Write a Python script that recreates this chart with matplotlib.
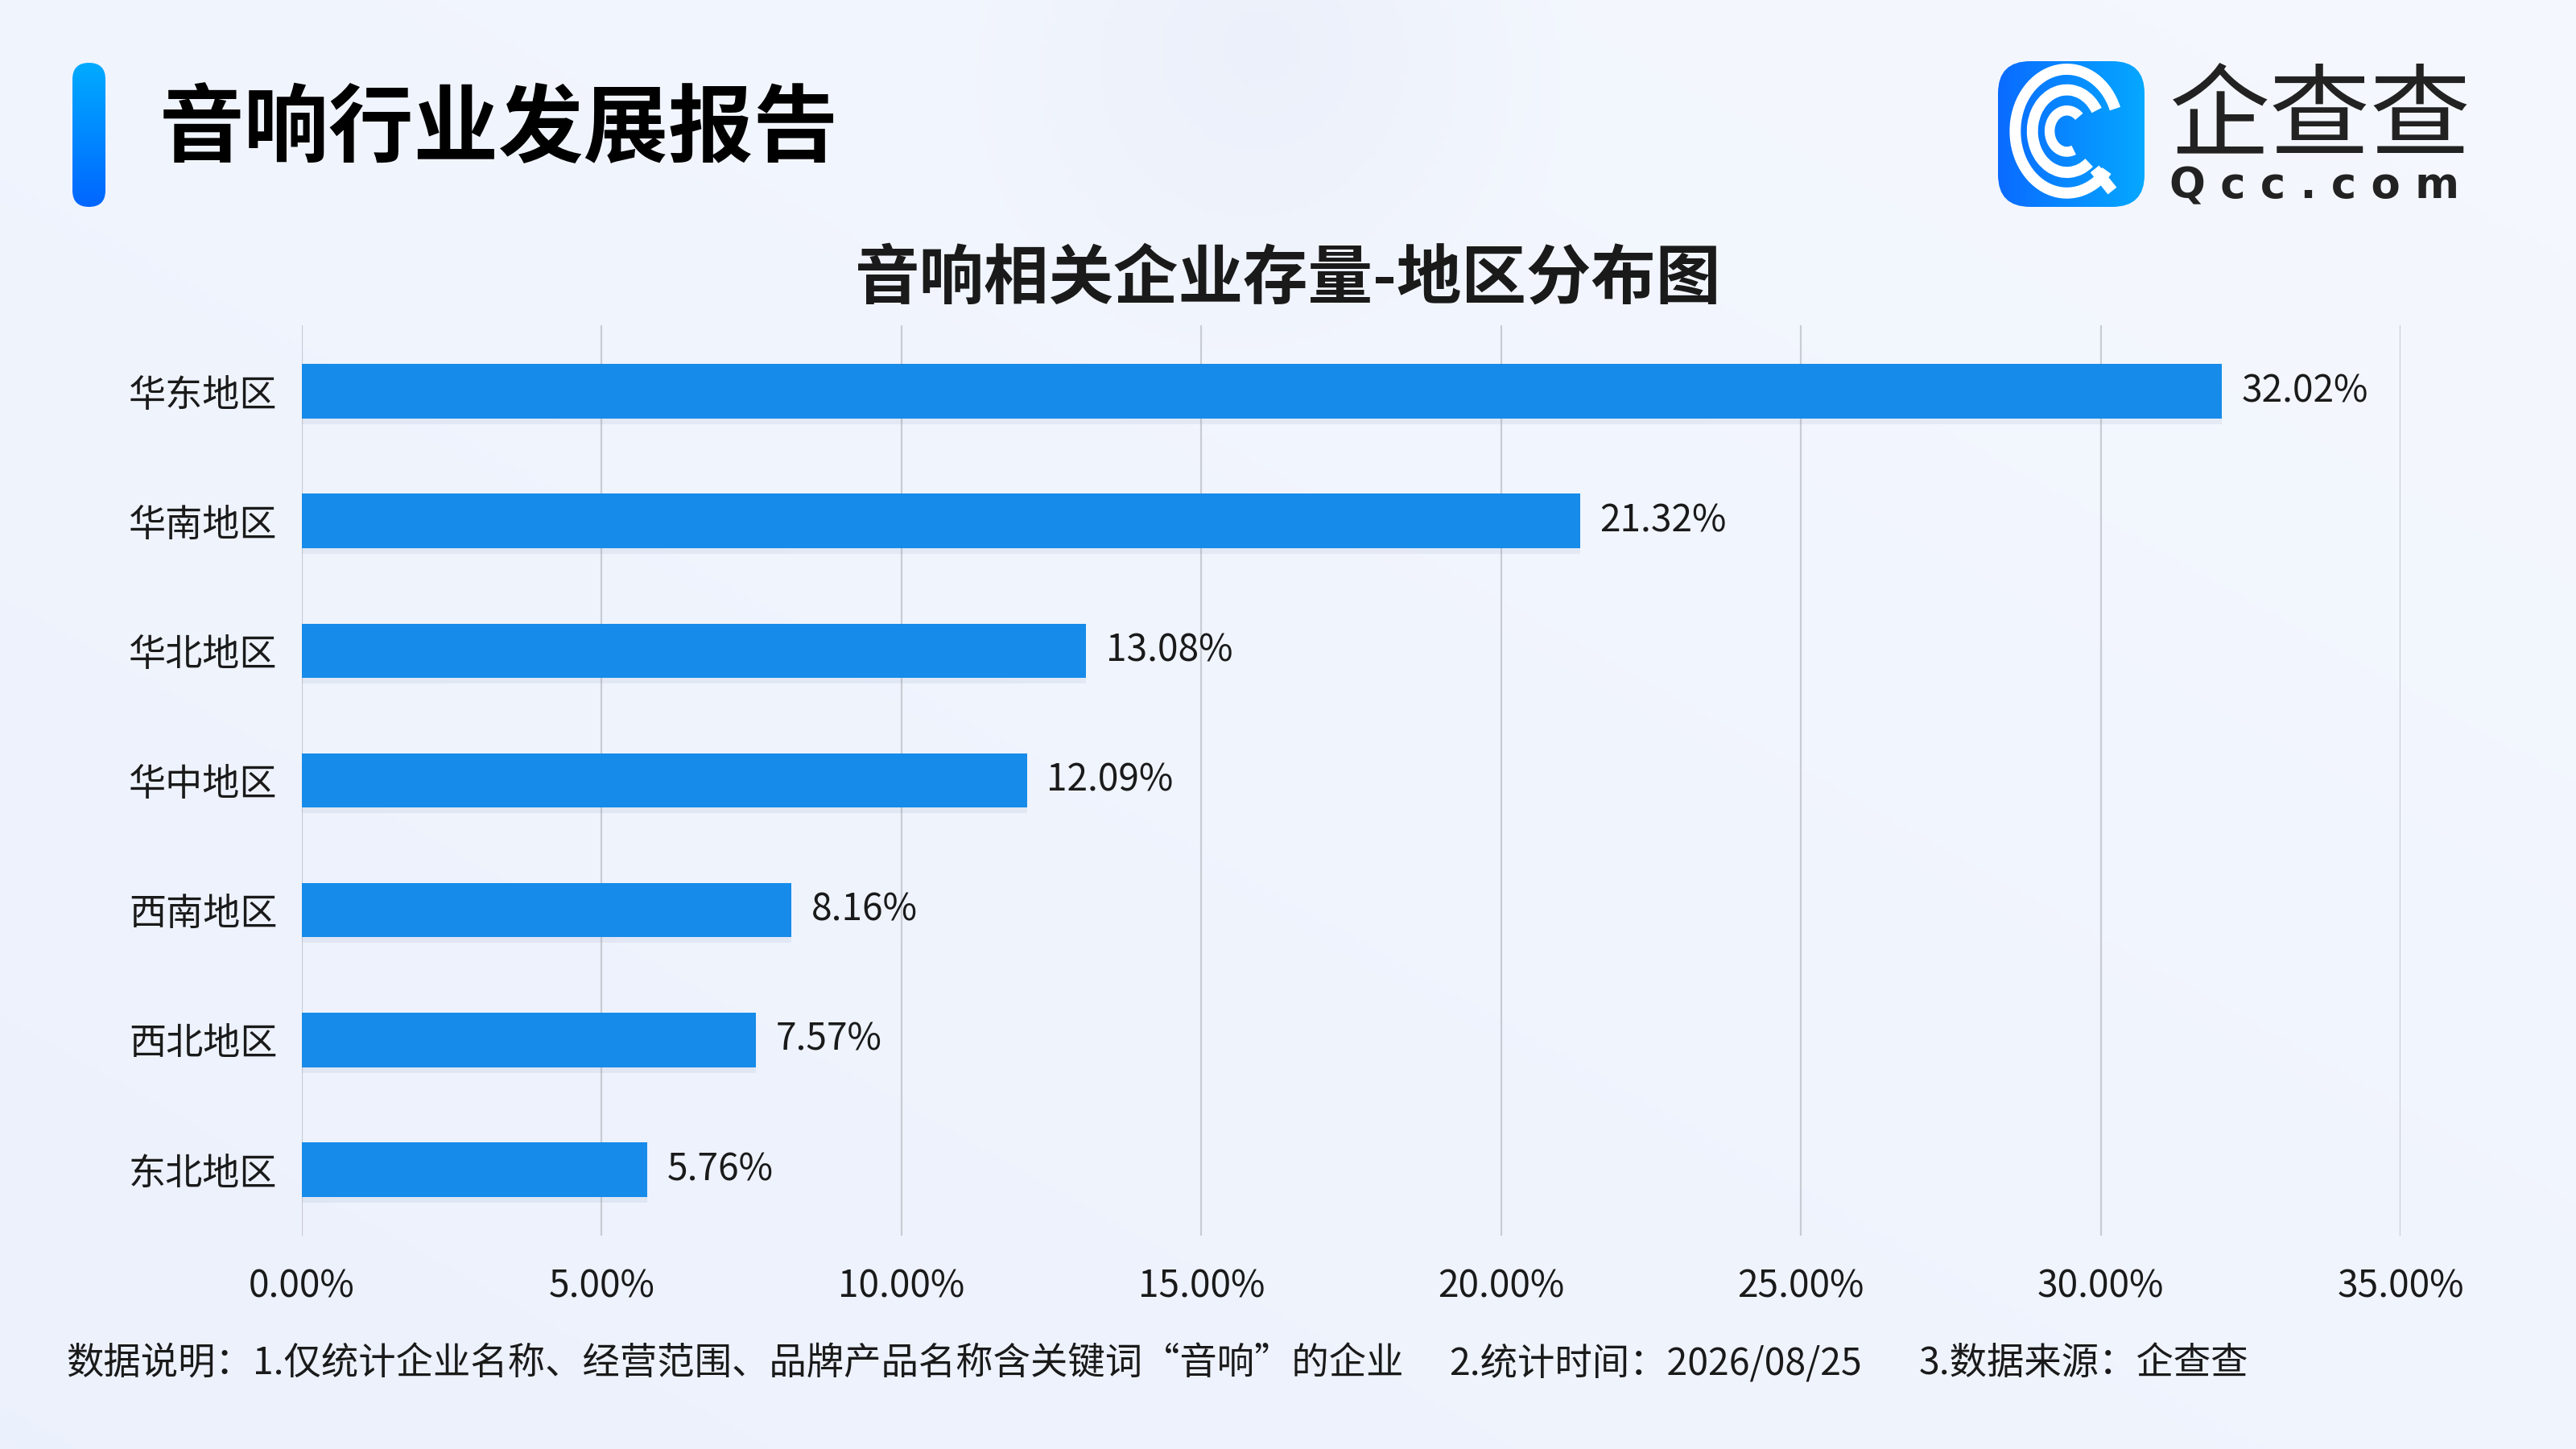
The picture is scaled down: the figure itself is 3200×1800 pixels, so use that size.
"""
音响相关企业存量-地区分布图 (横向条形图)
"""

import numpy as np
import matplotlib
matplotlib.use("Agg")
import matplotlib.pyplot as plt
from matplotlib.patches import FancyBboxPatch, Arc
from matplotlib import patheffects

plt.rcParams['font.family'] = ['Noto Sans CJK SC', 'DejaVu Sans']

# 数据
regions = ['华东地区', '华南地区', '华北地区', '华中地区', '西南地区', '西北地区', '东北地区']
shares = [32.02, 21.32, 13.08, 12.09, 8.16, 7.57, 5.76]
x_ticks = [0, 5, 10, 15, 20, 25, 30, 35]

main_title = '音响行业发展报告'
chart_title = '音响相关企业存量-地区分布图'
footnote_parts = ['数据说明：1.仅统计企业名称、经营范围、品牌产品名称含关键词“音响”的企业',
                  '2.统计时间：2026/08/25',
                  '3.数据来源：企查查']

BAR_COLOR = '#168bea'
TEXT_COLOR = '#1a1a1a'

fig = plt.figure(figsize=(16, 9), dpi=200)

# 背景渐变
bg = fig.add_axes([0, 0, 1, 1], zorder=-10)
yy, xx = np.mgrid[0:1:300j, 0:1:520j]
base = np.zeros((300, 520, 3))
c1 = np.array([0.925, 0.945, 0.990])
c2 = np.array([0.960, 0.972, 0.995])
t = np.clip(0.5 * xx + 0.5 * (1 - yy), 0, 1)[..., None]
base[:] = c1 * (1 - t) + c2 * t
# 顶部淡圆
d = np.sqrt(((xx - 0.49) * 1.78) ** 2 + (yy - 0.03) ** 2)
glow = np.clip(1 - d / 0.22, 0, 1)[..., None] * 0.5
base = base * (1 - glow) + np.array([0.90, 0.92, 0.97]) * glow
bg.imshow(base, extent=[0, 1, 0, 1], aspect='auto', origin='upper')
bg.set_xlim(0, 1)
bg.set_ylim(0, 1)
bg.axis('off')

# 标题竖条
bar_grad = np.linspace(0, 1, 100)[:, None]
cax = fig.add_axes([90 / 3200, 1 - 257 / 1800, 41 / 3200, 179 / 1800])
cols = np.array([0.0, 0.67, 1.0]) * (1 - bar_grad[..., None]) + np.array([0.0, 0.40, 1.0]) * bar_grad[..., None]
cax.imshow(cols, extent=[0, 1, 0, 1], aspect='auto', origin='upper')
clip = FancyBboxPatch((0, 0), 1, 1, boxstyle='round,pad=0,rounding_size=0.5',
                      mutation_aspect=0.23, transform=cax.transData, facecolor='none', edgecolor='none')
cax.add_patch(clip)
cax.images[0].set_clip_path(clip)
cax.axis('off')

fig.text(198 / 3200, 1 - 162 / 1800, main_title, fontsize=38, fontweight='black',
         color='#000000', va='center', ha='left')

# 企查查 logo
lax = fig.add_axes([2482 / 3200, 1 - 257 / 1800, 182 / 3200, 181 / 1800])
lgrad = np.linspace(0, 1, 100)[None, :]
lcols = np.array([0.04, 0.42, 1.0]) * (1 - lgrad[..., None]) + np.array([0.02, 0.66, 1.0]) * lgrad[..., None]
lax.imshow(lcols, extent=[0, 1, 0, 1], aspect='auto')
lclip = FancyBboxPatch((0, 0), 1, 1, boxstyle='round,pad=0,rounding_size=0.22',
                       transform=lax.transData, facecolor='none', edgecolor='none')
lax.add_patch(lclip)
lax.images[0].set_clip_path(lclip)
for r, gap in [(0.72, 35), (0.48, 45), (0.24, 60)]:
    lax.add_patch(Arc((0.47, 0.52), r * 0.98, r * 1.18, theta1=gap - 10, theta2=360 - gap - 10,
                      color='white', lw=5 if r > 0.3 else 4.5))
lax.plot([0.66, 0.78], [0.26, 0.11], color='white', lw=5, solid_capstyle='butt')
lax.set_xlim(0, 1)
lax.set_ylim(0, 1)
lax.axis('off')

fig.text(2695 / 3200, 1 - 148 / 1800, '企查查', fontsize=45, color='#222222',
         va='center', ha='left')
fig.text(2695 / 3200, 1 - 231 / 1800, 'Q c c . c o m', fontsize=19, fontweight='bold',
         color='#222222', va='center', ha='left', family='DejaVu Sans')

# 图表标题
fig.text(0.5, 1 - 347 / 1800, chart_title, fontsize=29, fontweight='bold',
         color=TEXT_COLOR, va='center', ha='center')

# 主图
ax = fig.add_axes([375 / 3200, 265 / 1800, 2607 / 3200, 1131 / 1800])
ax.patch.set_alpha(0)
y_pos = np.arange(len(regions))
bars = ax.barh(y_pos, shares, height=0.42, color=BAR_COLOR, zorder=3)
for b in bars:
    b.set_path_effects([patheffects.SimplePatchShadow(offset=(0, -2.5), shadow_rgbFace='#6f82a8', alpha=0.10),
                        patheffects.Normal()])
for y, v in zip(y_pos, shares):
    ax.text(v + 0.33, y, f'{v:.2f}%', va='center', ha='left', fontsize=16.6, color=TEXT_COLOR)

ax.set_xlim(0, 35)
ax.set_ylim(len(regions) - 0.49, -0.51)
ax.set_xticks(x_ticks)
ax.set_xticklabels([f'{v:.2f}%' for v in x_ticks])
ax.set_yticks(y_pos)
ax.set_yticklabels(regions)
ax.tick_params(axis='x', length=0, pad=14, labelsize=16.6, labelcolor=TEXT_COLOR)
ax.tick_params(axis='y', length=0, pad=11, labelsize=16.6, labelcolor=TEXT_COLOR)
ax.grid(axis='x', color='#c9ccd3', lw=0.8, zorder=0)
for s in ax.spines.values():
    s.set_visible(False)

# 脚注
for part, x_px in zip(footnote_parts, [82, 1800, 2384]):
    fig.text(x_px / 3200, 1 - 1694 / 1800, part, fontsize=16.7, color=TEXT_COLOR,
             va='center', ha='left')

fig.savefig('out.png', dpi=200)
